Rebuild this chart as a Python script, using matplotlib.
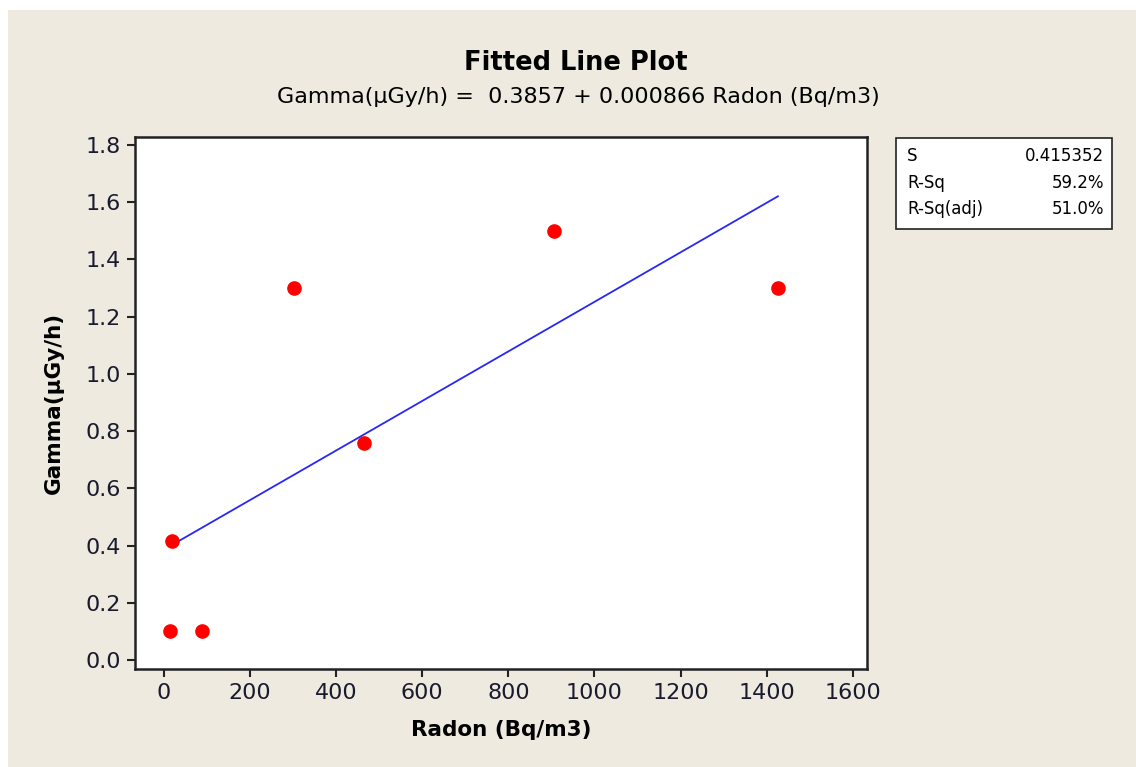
import matplotlib
matplotlib.use("Agg")
import matplotlib.pyplot as plt
from matplotlib.patches import Rectangle
import numpy as np

# Data
radon = [14, 88, 19, 302, 464, 906, 1426]
gamma = [0.10, 0.10, 0.416, 1.30, 0.76, 1.50, 1.30]
intercept = 0.3857
slope = 0.000866
stat_names = ["S", "R-Sq", "R-Sq(adj)"]
stat_values = ["0.415352", "59.2%", "51.0%"]
x_ticks = [0, 200, 400, 600, 800, 1000, 1200, 1400, 1600]
y_ticks = [0.0, 0.2, 0.4, 0.6, 0.8, 1.0, 1.2, 1.4, 1.6, 1.8]

W, H = 1136, 767
fig = plt.figure(figsize=(W / 100, H / 100), dpi=100, facecolor="white")
bg = "#EEEAE0"
fig.patches.append(Rectangle((8 / W, 0), 1 - 8 / W, 1 - 10 / H, transform=fig.transFigure,
                             facecolor=bg, edgecolor="none", zorder=-10))

ax = fig.add_axes([135 / W, 1 - 669 / H, (867 - 135) / W, (669 - 137) / H])
ax.set_facecolor("white")

xs = np.array([min(radon), max(radon)])
ax.plot(xs, intercept + slope * xs, color="#2828F5", lw=1.3, zorder=2)
ax.plot(radon, gamma, "o", color="#FF0000", markersize=9.5, zorder=3)

ax.set_xlim(-67, 1633)
ax.set_ylim(-0.0315, 1.828)
ax.set_xticks(x_ticks)
ax.set_xticklabels([str(t) for t in x_ticks])
ax.set_yticks(y_ticks)
ax.set_yticklabels([f"{t:.1f}" for t in y_ticks])
ax.tick_params(direction="out", length=6, width=1.5, colors="#222222", labelsize=16,
               labelcolor="#1a1a2e", pad=4)
for s in ax.spines.values():
    s.set_linewidth(1.8)
    s.set_color("#222222")

ax.set_xlabel("Radon (Bq/m3)", fontsize=15.5, fontweight="bold", labelpad=12)
ax.set_ylabel("Gamma(µGy/h)", fontsize=15.5, fontweight="bold", labelpad=16)

fig.text(576 / W, 1 - 63 / H, "Fitted Line Plot", ha="center", va="center",
         fontsize=18.5, fontweight="bold")
fig.text(578 / W, 1 - 97 / H, "Gamma(µGy/h) =  0.3857 + 0.000866 Radon (Bq/m3)",
         ha="center", va="center", fontsize=16)

# Stats box
bx0, by0, bx1, by1 = 896, 138, 1112, 229
fig.patches.append(Rectangle((bx0 / W, 1 - by1 / H), (bx1 - bx0) / W, (by1 - by0) / H,
                             transform=fig.transFigure, facecolor="white",
                             edgecolor="#222222", lw=1.2))
row_y = [156, 183, 209]
for name, val, yy in zip(stat_names, stat_values, row_y):
    fig.text(907 / W, 1 - yy / H, name, ha="left", va="center", fontsize=12)
    fig.text(1104 / W, 1 - yy / H, val, ha="right", va="center", fontsize=12)

fig.savefig("out.png", dpi=100, facecolor=fig.get_facecolor())
